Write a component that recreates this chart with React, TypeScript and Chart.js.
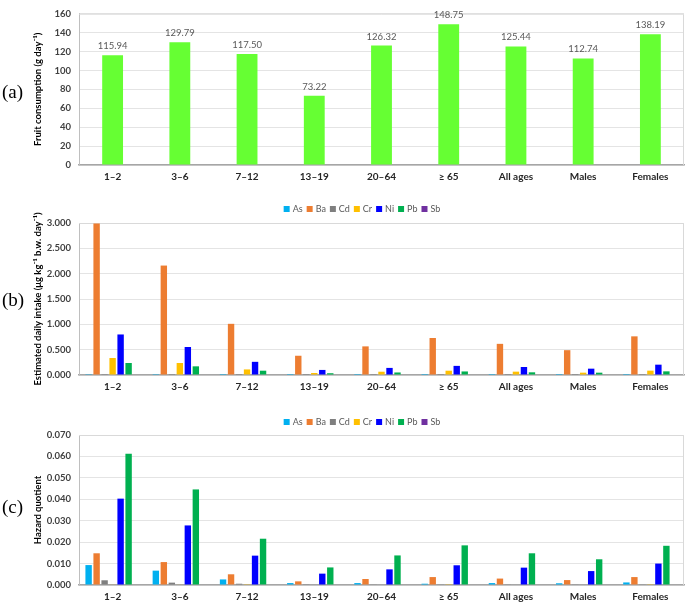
import React, { useEffect, useRef } from "react";
import { Chart, registerables } from "chart.js";

Chart.register(...registerables);

const categories = ["1–2", "3–6", "7–12", "13–19", "20–64", "≥ 65", "All ages", "Males", "Females"];
const fruitConsumption = [115.94, 129.79, 117.5, 73.22, 126.32, 148.75, 125.44, 112.74, 138.19];

const elements = ["As", "Ba", "Cd", "Cr", "Ni", "Pb", "Sb"];
const elementColors = ["#00B0F0", "#ED7D31", "#7F7F7F", "#FFC000", "#0000FF", "#00B050", "#7030A0"];

// Estimated daily intake (µg kg-1 b.w. day-1)
const ediAs = [0.0028, 0.002, 0.0008, 0.0003, 0.0003, 0.0002, 0.0003, 0.0002, 0.0004];
const ediBa = [2.99, 2.16, 1.01, 0.38, 0.565, 0.73, 0.615, 0.49, 0.763];
const ediCd = [0.0022, 0.0011, 0.0006, 0.0001, 0.0003, 0.0003, 0.0003, 0.0003, 0.0003];
const ediCr = [0.335, 0.237, 0.11, 0.04, 0.065, 0.085, 0.066, 0.046, 0.086];
const ediNi = [0.8, 0.553, 0.26, 0.1, 0.14, 0.18, 0.158, 0.125, 0.204];
const ediPb = [0.237, 0.171, 0.085, 0.035, 0.05, 0.07, 0.053, 0.046, 0.072];
const ediSb = [0, 0, 0, 0, 0, 0, 0, 0, 0];

// Hazard quotient
const hqAs = [0.0093, 0.0067, 0.0026, 0.0009, 0.0009, 0.0006, 0.0009, 0.0008, 0.0012];
const hqBa = [0.0148, 0.0107, 0.005, 0.0017, 0.0028, 0.0037, 0.003, 0.0023, 0.0037];
const hqCd = [0.0022, 0.0011, 0.0006, 0.0001, 0.0003, 0.0003, 0.0003, 0.0003, 0.0003];
const hqCr = [0.0002, 0.0002, 0.0001, 0, 0, 0.0001, 0, 0, 0.0001];
const hqNi = [0.0403, 0.0278, 0.0137, 0.0053, 0.0073, 0.0092, 0.0081, 0.0065, 0.01];
const hqPb = [0.0613, 0.0446, 0.0216, 0.0082, 0.0138, 0.0185, 0.0148, 0.012, 0.0183];
const hqSb = [0, 0, 0, 0, 0, 0, 0, 0, 0];

const ediSeries = [ediAs, ediBa, ediCd, ediCr, ediNi, ediPb, ediSb];
const hqSeries = [hqAs, hqBa, hqCd, hqCr, hqNi, hqPb, hqSb];

const FONT = "Lato, 'Open Sans', sans-serif";

function frameLines() {
  return {
    id: "frameLines",
    beforeDatasetsDraw(chart: any) {
      const { ctx, chartArea } = chart;
      ctx.save();
      ctx.strokeStyle = "#D9D9D9";
      ctx.lineWidth = 1;
      ctx.beginPath();
      ctx.moveTo(chartArea.left, chartArea.top + 0.5);
      ctx.lineTo(chartArea.right - 0.5, chartArea.top + 0.5);
      ctx.lineTo(chartArea.right - 0.5, chartArea.bottom);
      ctx.stroke();
      ctx.restore();
    },
  };
}

function valueLabels() {
  return {
    id: "valueLabels",
    afterDatasetsDraw(chart: any) {
      const { ctx } = chart;
      const meta = chart.getDatasetMeta(0);
      const data = chart.data.datasets[0].data;
      ctx.save();
      ctx.fillStyle = "#595959";
      ctx.font = `9.5px ${FONT}`;
      ctx.textAlign = "center";
      ctx.textBaseline = "middle";
      meta.data.forEach((bar: any, i: number) => {
        ctx.fillText(Number(data[i]).toFixed(2), bar.x, bar.y - 9);
      });
      ctx.restore();
    },
  };
}

function customLegend(centerX: number, centerY: number) {
  return {
    id: "customLegend",
    afterDraw(chart: any) {
      const { ctx } = chart;
      ctx.save();
      ctx.font = `9px ${FONT}`;
      const items = chart.data.datasets.map((d: any) => ({ text: d.label, color: d.backgroundColor }));
      const box = 6;
      const widths = items.map((it: any) => box + 3 + ctx.measureText(it.text).width);
      const gap = 4;
      const total = widths.reduce((a: number, b: number) => a + b, 0) + gap * (items.length - 1);
      let x = centerX - total / 2;
      items.forEach((it: any, i: number) => {
        ctx.fillStyle = it.color;
        ctx.fillRect(x, centerY - box / 2, box, box);
        ctx.fillStyle = "#595959";
        ctx.textAlign = "left";
        ctx.textBaseline = "middle";
        ctx.fillText(it.text, x + box + 3, centerY + 0.5);
        x += widths[i] + gap;
      });
      ctx.restore();
    },
  };
}

type PanelProps = {
  top: number;
  height: number;
  kind: "fruit" | "edi" | "hq";
};

function Panel({ top, height, kind }: PanelProps) {
  const ref = useRef<HTMLCanvasElement | null>(null);

  useEffect(() => {
    if (!ref.current) return;
    let datasets: any[];
    let yMax: number;
    let step: number;
    let decimals: number;
    let title: string;
    let padTop: number;
    let xHeight: number;
    const plugins: any[] = [frameLines()];

    if (kind === "fruit") {
      datasets = [
        {
          label: "Fruit consumption",
          data: fruitConsumption,
          backgroundColor: "#66FF33",
          barPercentage: 0.31,
          categoryPercentage: 1,
        },
      ];
      yMax = 160;
      step = 20;
      decimals = 0;
      title = "Fruit consumption (g day⁻¹)";
      padTop = 4;
      xHeight = 30;
      plugins.push(valueLabels());
    } else {
      const series = kind === "edi" ? ediSeries : hqSeries;
      datasets = elements.map((el, i) => ({
        label: el,
        data: series[i],
        backgroundColor: elementColors[i],
        barPercentage: 0.8,
        categoryPercentage: 0.833,
      }));
      if (kind === "edi") {
        yMax = 3;
        step = 0.5;
        decimals = 3;
        title = "Estimated daily intake (μg kg⁻¹ b.w. day⁻¹)";
        padTop = 28;
        xHeight = 30;
        plugins.push(customLegend(362, 14));
      } else {
        yMax = 0.07;
        step = 0.01;
        decimals = 3;
        title = "Hazard quotient";
        padTop = 30;
        xHeight = 18;
        plugins.push(customLegend(362, 17));
      }
    }

    const chart = new Chart(ref.current, {
      type: "bar",
      data: { labels: categories, datasets },
      plugins,
      options: {
        responsive: false,
        animation: false,
        devicePixelRatio: 1,
        layout: { padding: { top: padTop, right: 1, left: 0, bottom: 0 } },
        plugins: {
          legend: { display: false },
          tooltip: { enabled: false },
        },
        scales: {
          x: {
            ticks: {
              color: "#262626",
              font: { family: FONT, size: 10, weight: "bold" },
              padding: 6,
              maxRotation: 0,
              autoSkip: false,
            },
            grid: { display: false, drawTicks: false },
            border: { color: "#A6A6A6", width: 1.5 },
            afterFit: (s: any) => {
              s.height = xHeight;
            },
          },
          y: {
            min: 0,
            max: yMax,
            ticks: {
              stepSize: step,
              padding: 8,
              color: "#404040",
              font: { family: FONT, size: 9.5, weight: "bold" },
              callback: (v: any) => Number(v).toFixed(decimals),
            },
            grid: { color: "#E4E4E4", drawTicks: false },
            border: { color: "#BFBFBF", width: 1 },
            title: {
              display: true,
              text: title,
              color: "#000000",
              font: { family: FONT, size: 9.5, weight: "bold" },
              padding: { top: 32, bottom: 0 },
            },
            afterFit: (s: any) => {
              s.width = 79;
            },
          },
        },
      } as any,
    });
    return () => chart.destroy();
  }, [kind]);

  return (
    <canvas
      ref={ref}
      width={685}
      height={height}
      style={{ position: "absolute", left: 0, top, width: 685, height, display: "block" }}
    />
  );
}

const panelLabel: React.CSSProperties = {
  position: "absolute",
  left: 2,
  fontFamily: "'Liberation Serif', 'Times New Roman', serif",
  fontSize: 19,
  color: "#000",
  lineHeight: "20px",
};

export default function App() {
  return (
    <div
      style={{
        position: "fixed",
        left: 0,
        top: 0,
        width: 685,
        height: 603,
        background: "#ffffff",
        overflow: "hidden",
      }}
    >
      <Panel top={0} height={195} kind="fruit" />
      <Panel top={195} height={210} kind="edi" />
      <Panel top={405} height={198} kind="hq" />
      <div style={{ ...panelLabel, top: 82 }}>(a)</div>
      <div style={{ ...panelLabel, top: 290 }}>(b)</div>
      <div style={{ ...panelLabel, top: 497 }}>(c)</div>
    </div>
  );
}
